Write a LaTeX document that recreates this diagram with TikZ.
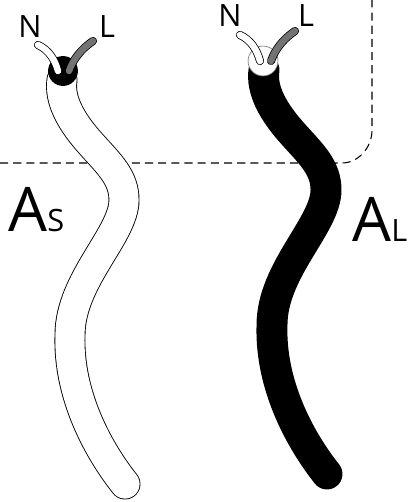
\documentclass[tikz,border=0pt]{standalone}
\usepackage{fontspec}
\setmainfont{Open Sans}
\newcommand{\bigA}{\fontsize{35}{35}\selectfont}
\newcommand{\smallA}{\fontsize{17.5}{18}\selectfont}
\def\cablepath{(62,80) .. controls (59,100) and (71,122) .. (92,145) .. controls (110,165) and (124,178) .. (124,200) .. controls (124,235) and (70,280) .. (70,335) .. controls (68,395) and (98,450) .. (125,484)}
\def\neutralpath{(58,71) .. controls (55,60) and (49,50) .. (38,45)}
\def\livepath{(69,71) .. controls (73,60) and (80,50) .. (93,41)}
\tikzset{
	wireout/.style={line width=4.6pt, line cap=round, color=black},
	neutral/.style={line width=3.7pt, line cap=round, color=white},
	live/.style={line width=3.7pt, line cap=round, color=black!55},
	lbl/.style={font=\smallA, inner sep=0pt},
	areaname/.style={font=\smallA, inner sep=0pt, anchor=base west},
}
\begin{document}
\begin{tikzpicture}[x=.02cm, y=-.02cm]
	\useasboundingbox (0,0) rectangle (409,502);
	\coordinate (frameleft) at (0,163);
	\coordinate (frametop) at (372,0);
	\draw[line width=.6pt, dash pattern=on 4.6pt off 2.9pt] (frameleft) -- (342,163) .. controls (358,163) and (372,148) .. (372,130) -- (frametop);
	% white cable
	\draw[line width=17.6pt, line cap=round, color=black] \cablepath;
	\draw[line width=16.6pt, line cap=round, color=white] \cablepath;
	\node[fill=black, circle, minimum size=17pt, inner sep=0pt] (blobleft) at (63,71) {};
	\draw[wireout] \neutralpath;
	\draw[neutral] \neutralpath;
	\draw[wireout] \livepath;
	\draw[live] \livepath;
	\node[lbl] (nleft) at (30,27) {N};
	\node[lbl] (lleft) at (107,27) {L};
	\node[areaname] (areas) at (8,232) {{\bigA A}S};
	% black cable
	\begin{scope}[shift={(202,-10)}]
	\draw[line width=17.6pt, line cap=round, color=black] \cablepath;
	\node[fill=white, draw=gray, line width=.4pt, circle, minimum size=17pt, inner sep=0pt] (ringright) at (61,71) {};
	\draw[wireout] \neutralpath;
	\draw[neutral] \neutralpath;
	\draw[wireout] \livepath;
	\draw[live] \livepath;
	\end{scope}
	\node[lbl] (nright) at (230,16) {N};
	\node[lbl] (lright) at (306,16) {L};
	\node[areaname] (areal) at (352,242) {{\bigA A}L};
\end{tikzpicture}
\end{document}
